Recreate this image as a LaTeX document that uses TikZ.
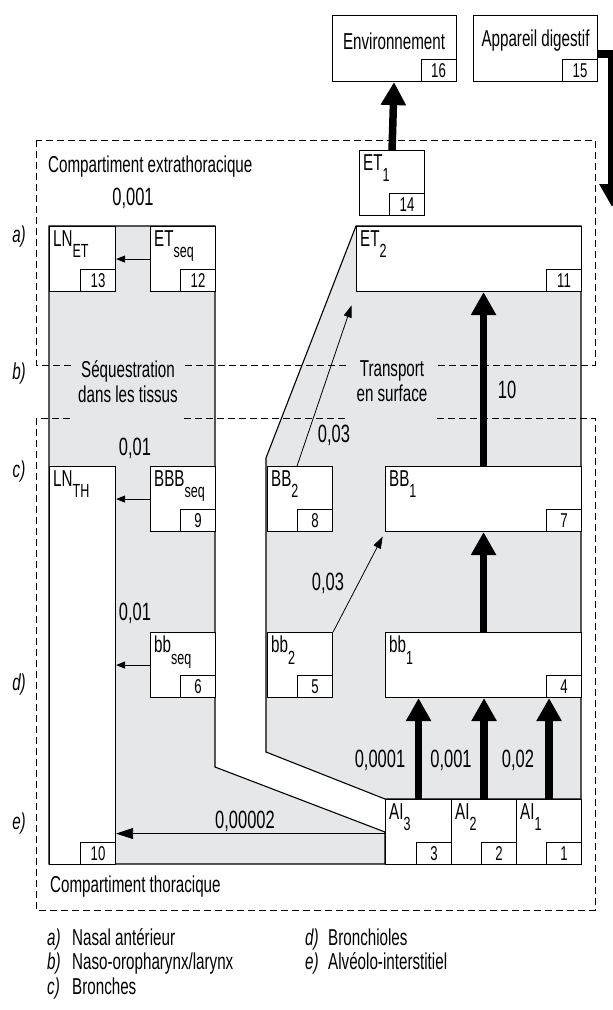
\documentclass[tikz,border=0pt]{standalone}
\usepackage{fontspec}
\setmainfont{Liberation Sans}[FakeStretch=0.66]
\usetikzlibrary{arrows.meta,calc}
\definecolor{tissue}{HTML}{E6E7E8}
\tikzset{
  cell/.style={draw, fill=white, line width=1.1pt, inner sep=0pt},
  numbox/.style={draw, fill=white, line width=1.1pt, minimum width=35pt, minimum height=22pt, inner sep=0pt, font=\fontsize{20}{20}\selectfont},
  lbl/.style={inner sep=4pt, font=\fontsize{23}{23}\selectfont},
  rate/.style={inner sep=1pt, font=\fontsize{25}{25}\selectfont},
  tag/.style={inner sep=1pt, font=\fontsize{23}{23}\selectfont\itshape},
  legend/.style={inner sep=1pt, font=\fontsize{23}{23}\selectfont},
  sepnote/.style={fill=tissue, inner sep=0pt, align=center, font=\fontsize{23}{25}\selectfont, minimum height=82pt},
  zone/.style={line width=1pt, dash pattern=on 7pt off 4pt},
  region/.style={fill=tissue, draw, line width=1.1pt},
  flux/.style={line width=7.5pt, -{Triangle[length=23pt,width=24pt]}},
  drift/.style={line width=0.8pt, -{Triangle[length=9pt,width=7pt]}},
}
\newcommand{\idx}[1]{\raisebox{-0.5em}{\fontsize{19}{19}\selectfont #1}}
\newcommand{\compart}[7]{% name, x, y, width, height, label, number
  \node[cell, anchor=north west, minimum width=#4pt, minimum height=#5pt] (#1) at (#2,#3) {};
  \node[lbl, anchor=north west] (#1-lbl) at (#1.north west) {#6};
  \node[numbox, anchor=south east] (#1-num) at (#1.south east) {#7};}

\begin{document}
\begin{tikzpicture}[x=1pt,y=-1pt]
  \useasboundingbox (0,0) rectangle (613,1010);

  % tissue and surface paths
  \draw[region] (49,226) -- (215,226) -- (215,767) -- (385,832) -- (385,864) -- (49,864) -- cycle;
  \draw[region] (356,226) -- (581,226) -- (581,799) -- (385,799) -- (266,752) -- (266,458) -- cycle;

  % outside
  \node[cell, anchor=north west, minimum width=124pt, minimum height=66pt] (env) at (331.5,15) {};
  \node[lbl] (env-lbl) at ([yshift=-26pt]env.north) {Environnement};
  \node[numbox, anchor=south east] (env-num) at (env.south east) {16};
  \node[cell, anchor=north west, minimum width=124pt, minimum height=66pt] (gi) at (473,15) {};
  \node[lbl] (gi-lbl) at ([yshift=-26pt]gi.north) {Appareil digestif};
  \node[numbox, anchor=south east] (gi-num) at (gi.south east) {15};

  % compartments
  \compart{ET1}{359}{150}{65}{65}{ET\idx{1}}{14}
  \compart{LNET}{49}{226}{66}{65}{LN\idx{ET}}{13}
  \compart{ETseq}{150}{226}{65}{65}{ET\idx{seq}}{12}
  \compart{ET2}{356}{226}{225}{65}{ET\idx{2}}{11}
  \compart{LNTH}{49}{466}{66}{398}{LN\idx{TH}}{10}
  \compart{BBBseq}{150}{466}{65}{65}{BBB\idx{seq}}{9}
  \compart{BB2}{267}{466}{65}{65}{BB\idx{2}}{8}
  \compart{BB1}{385}{466}{196}{65}{BB\idx{1}}{7}
  \compart{bbseq}{150}{632}{65}{65}{bb\idx{seq}}{6}
  \compart{bb2}{267}{632}{65}{65}{bb\idx{2}}{5}
  \compart{bb1}{385}{632}{196}{65}{bb\idx{1}}{4}
  \compart{AI3}{385}{799}{66}{65}{AI\idx{3}}{3}
  \compart{AI2}{451}{799}{65}{65}{AI\idx{2}}{2}
  \compart{AI1}{516}{799}{65}{65}{AI\idx{1}}{1}

  % extrathoracic and thoracic zones
  \draw[zone] (36.4,140) rectangle (595.4,365);
  \draw[zone] (36.4,418) rectangle (595.4,910);
  \node[legend, anchor=west] (xt) at (47,167) {Compartiment extrathoracique};
  \node[legend, anchor=west] (th) at (49,887) {Compartiment thoracique};
  \node[sepnote, minimum width=108pt] (seqn) at (128,381.5) {Séquestration\\dans les tissus};
  \node[sepnote, minimum width=88pt] (surf) at (392,381.5) {Transport\\en surface};

  % clearance
  \draw[flux] (ET1.north) -- (env.south);
  \coordinate (gut) at (612,207);
  \draw[flux] ([yshift=-5.5pt]gi.east) -| (gut);
  \draw[flux] (BB1.north) -- (BB1.north |- ET2.south);
  \draw[flux] (bb1.north) -- (BB1.south);
  \foreach \a in {AI3,AI2,AI1}
    \draw[flux] (\a.north) -- (\a.north |- bb1.south);
  \draw[drift] (ETseq.west) -- (ETseq.west -| LNET.east);
  \draw[drift] (BBBseq.west) -- (BBBseq.west -| LNTH.east);
  \draw[drift] (bbseq.west) -- (bbseq.west -| LNTH.east);
  \draw[drift, -{Triangle[length=17pt,width=11pt]}] ([yshift=-1.5pt]AI3.west) -- ([yshift=-1.5pt]AI3.west -| LNTH.east);
  \draw[drift, -{Triangle[length=12pt,width=8pt]}, shorten >=14pt] ([xshift=-3pt]BB2.north) -- (ET2.south west);
  \draw[drift, -{Triangle[length=12pt,width=8pt]}, shorten >=5pt] (bb2.north east) -- (BB1.south west);

  % rates
  \node[rate] (r13) at (133,198) {0,001};
  \node[rate] (r9) at (135,448) {0,01};
  \node[rate] (r6) at (135,613) {0,01};
  \node[rate] (r8) at (334,435) {0,03};
  \node[rate] (r5) at (328,583) {0,03};
  \node[rate] (r7) at (507,390) {10};
  \node[rate] (r3) at (380,760) {0,0001};
  \node[rate] (r2) at (451,760) {0,001};
  \node[rate] (r1) at (518,760) {0,02};
  \node[rate] (r10) at (245,821) {0,00002};

  % regions
  \foreach \y/\k in {242/a, 379/b, 477/c, 690/d, 829/e}
    \node[tag, anchor=base] (tag-\k) at (19,\y) {\k)};
  \foreach \y/\k/\t in {945/a/{Nasal antérieur}, 969.5/b/{Naso-oropharynx/larynx}, 994/c/{Bronches}} {
    \node[tag, anchor=base west] (key-\k) at (46,\y) {\k)};
    \node[legend, anchor=base west] (txt-\k) at (71,\y) {\t};
  }
  \foreach \y/\k/\t in {945/d/{Bronchioles}, 969.5/e/{Alvéolo-interstitiel}} {
    \node[tag, anchor=base west] (key-\k) at (304,\y) {\k)};
    \node[legend, anchor=base west] (txt-\k) at (327,\y) {\t};
  }
\end{tikzpicture}
\end{document}
